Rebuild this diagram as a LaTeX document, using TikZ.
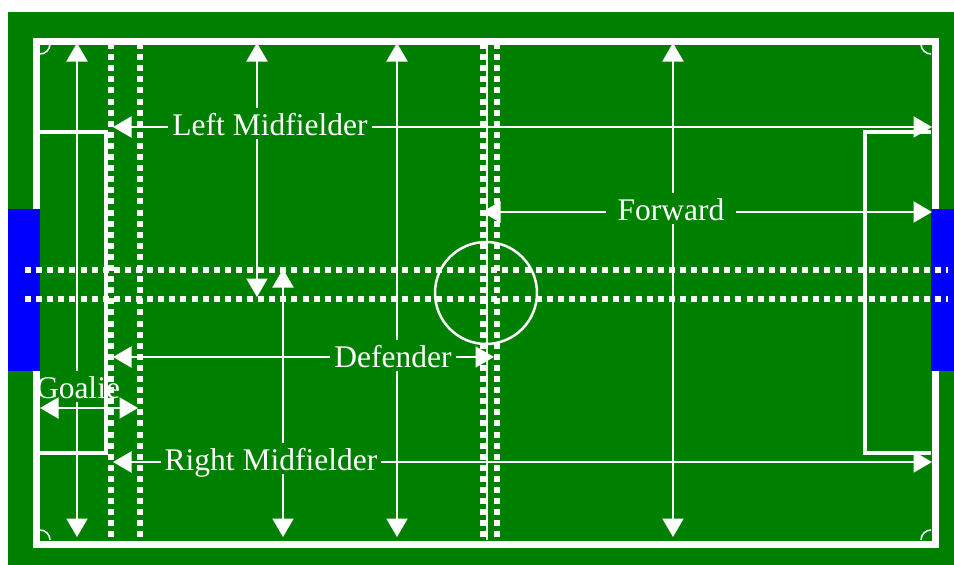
\documentclass[tikz,border=0pt]{standalone}
\usepackage{fontspec}
\setmainfont{Liberation Serif}
\usetikzlibrary{arrows.meta}
\definecolor{fieldgreen}{RGB}{0,128,0}
\definecolor{goalblue}{RGB}{0,0,255}
\tikzset{
  darr/.style={white, line width=2pt, {Triangle[length=18.5pt,width=21pt]}-{Triangle[length=18.5pt,width=21pt]}},
  lab/.style={fill=fieldgreen, text=white, inner xsep=4pt, inner ysep=0pt,
    text height=27pt, text depth=4pt, anchor=base, font=\fontsize{31.5}{32}\selectfont},
  fieldline/.style={white, line width=3.5pt},
  dotline/.style={white, line width=6pt, dash pattern=on 6pt off 5.1pt},
  cornerarc/.style={white, line width=1.5pt}
}
\begin{document}
\begin{tikzpicture}[x=1pt,y=-1pt]
\useasboundingbox (0,0) rectangle (954,565);
\fill[white] (0,0) rectangle (954,565);
% field
\fill[fieldgreen] (8,12) rectangle (954,565);
% goalie vertical range
\coordinate (gv1) at (77,43);
\coordinate (gv2) at (77,537);
\draw[darr] (gv1) -- (gv2);
\node[lab, inner xsep=1pt] (goalie) at (78,398) {Goalie};
% boundary
\draw[white, line width=7pt] (36,41) rectangle (935,544);
% goals
\fill[goalblue] (8,209) rectangle (40,371);
\fill[goalblue] (931,209) rectangle (954,371);
% penalty boxes
\draw[fieldline] (40,132) -- (106,132) -- (106,453) -- (40,453);
\draw[fieldline] (931,132) -- (865,132) -- (865,453) -- (931,453);
% halfway line and centre circle
\draw[white, line width=2.5pt] (487,44) -- (487,540);
\draw[white, line width=2.5pt] (486,293) circle[radius=51pt];
% corner arcs
\draw[cornerarc] (50,44) arc[start angle=0, end angle=-90, radius=10pt];
\draw[cornerarc] (921,44) arc[start angle=180, end angle=270, radius=10pt];
\draw[cornerarc] (50,540) arc[start angle=0, end angle=90, radius=10pt];
\draw[cornerarc] (921,540) arc[start angle=180, end angle=90, radius=10pt];
% dotted zone lines
\draw[dotline] (111,43) -- (111,540);
\draw[dotline] (139.5,43) -- (139.5,540);
\draw[dotline] (483,43) -- (483,540);
\draw[dotline] (497,43) -- (497,540);
\draw[dotline] (25,270) -- (948,270);
\draw[dotline] (25,299) -- (948,299);
% vertical ranges
\coordinate (lmv1) at (257,43);
\coordinate (lmv2) at (257,297);
\draw[darr] (lmv1) -- (lmv2);
\coordinate (rmv1) at (283,269);
\coordinate (rmv2) at (283,537);
\draw[darr] (rmv1) -- (rmv2);
\coordinate (dv1) at (397,43);
\coordinate (dv2) at (397,537);
\draw[darr] (dv1) -- (dv2);
\coordinate (fv1) at (673,43);
\coordinate (fv2) at (673,537);
\draw[darr] (fv1) -- (fv2);
% horizontal ranges
\coordinate (lmh1) at (113,127);
\coordinate (lmh2) at (932,127);
\draw[darr] (lmh1) -- (lmh2);
\coordinate (fh1) at (482,212);
\coordinate (fh2) at (932,212);
\draw[darr] (fh1) -- (fh2);
\coordinate (dh1) at (113,357);
\coordinate (dh2) at (494,357);
\draw[darr] (dh1) -- (dh2);
\coordinate (gh1) at (40,408);
\coordinate (gh2) at (138,408);
\draw[darr] (gh1) -- (gh2);
\coordinate (rmh1) at (113,462);
\coordinate (rmh2) at (932,462);
\draw[darr] (rmh1) -- (rmh2);
% labels
\node[lab] (leftmid) at (270,135) {Left Midfielder};
\node[lab, inner xsep=12pt] (forward) at (671,220) {Forward};
\node[lab] (defender) at (393,367) {Defender};
\node[lab] (rightmid) at (271,470) {Right Midfielder};
\end{tikzpicture}
\end{document}
